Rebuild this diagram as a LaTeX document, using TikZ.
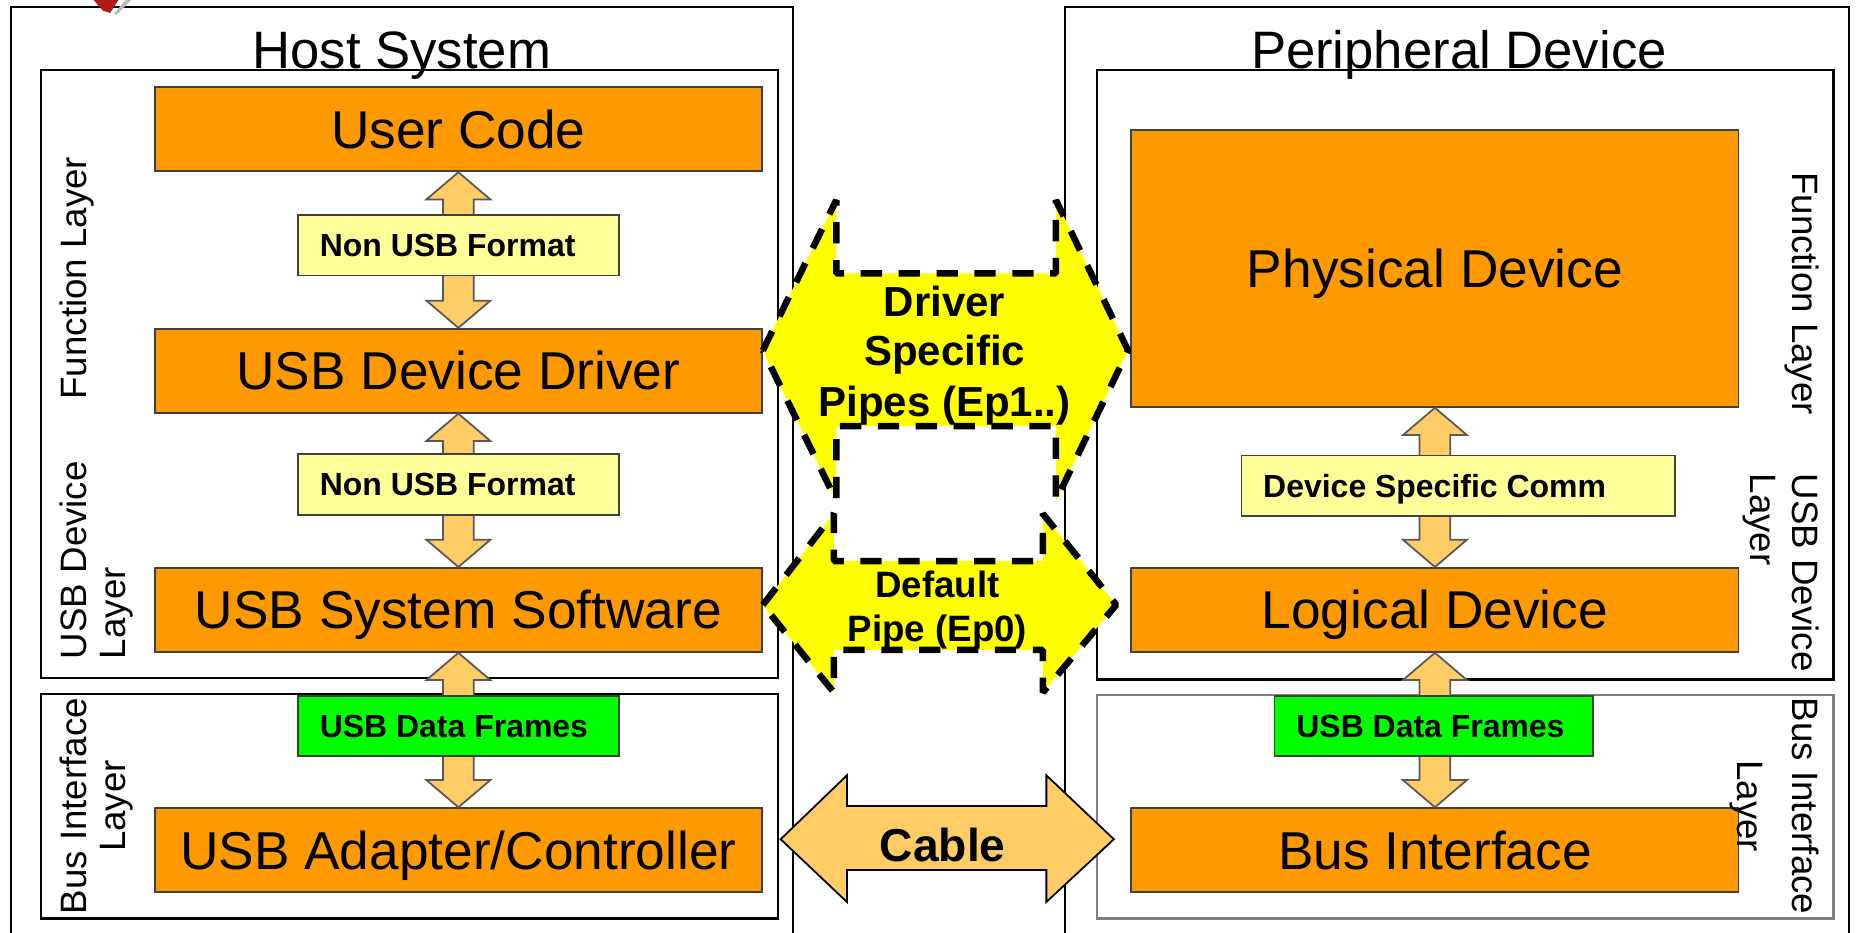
\documentclass[tikz,border=0pt]{standalone}
\usepackage{fontspec}
\setmainfont{Liberation Sans}
\usetikzlibrary{calc}
\definecolor{orng}{HTML}{FF9900}
\definecolor{pale}{HTML}{FFFF99}
\definecolor{grn}{HTML}{00FF00}
\definecolor{arr}{HTML}{FFCC66}
\definecolor{bord}{HTML}{404040}
\definecolor{agray}{HTML}{595959}
\definecolor{pyel}{HTML}{FFFF00}
\definecolor{logored}{HTML}{B01818}
\newcommand\vdarr[2]{%
  \draw[varr] let \p1=(#1), \p2=(#2) in
    (\x1,\y1) -- (\x1+27pt,\y1-23pt) -- (\x1+13pt,\y1-23pt) -- (\x1+13pt,\y2+23pt)
    -- (\x1+27pt,\y2+23pt) -- (\x1,\y2) -- (\x1-27pt,\y2+23pt) -- (\x1-13pt,\y2+23pt)
    -- (\x1-13pt,\y1-23pt) -- (\x1-27pt,\y1-23pt) -- cycle;}
\begin{document}
\begin{tikzpicture}[x=1pt,y=-1pt,
  frame/.style={draw=black, line width=1.8},
  obox/.style={draw=bord, fill=orng, line width=1.5, inner sep=0, minimum width=513, minimum height=71, anchor=north west},
  olabel/.style={font=\fontsize{45}{54}\selectfont, inner sep=0, text height=32.2pt, text depth=0pt},
  pbox/.style={draw=bord, fill=pale, line width=1.5, inner sep=0, minimum height=51, anchor=north west},
  plabel/.style={font=\bfseries\fontsize{27}{32}\selectfont, inner sep=0, text height=19.3pt, text depth=0pt, anchor=west},
  varr/.style={draw=agray, fill=arr, line width=1.5, line join=miter},
  pipe/.style={draw=black, fill=pyel, line width=5.5, dash pattern=on 18pt off 14pt, line join=bevel},
  cab/.style={draw=black, fill=arr, line width=1.5},
  lay/.style={font=\fontsize{31}{35}\selectfont, inner sep=0},
  ttl/.style={font=\fontsize{44.5}{50}\selectfont, inner sep=0, anchor=base},
  ptxt/.style={font=\bfseries\fontsize{35.5}{40}\selectfont, inner sep=0, anchor=base},
  ptxts/.style={font=\bfseries\fontsize{31}{36}\selectfont, inner sep=0, anchor=base},
  ctxt/.style={font=\bfseries\fontsize{39}{44}\selectfont, inner sep=0, anchor=base},
]
\useasboundingbox (0,0) rectangle (1568,788.2);

% outer frames
\draw[frame] (9,788.2) -- (9,6) -- (670,6) -- (670,788.2);
\draw[frame] (900,788.2) -- (900,6) -- (1562,6) -- (1562,788.2);
% logo fragment
\fill[logored] (79,0) -- (100,0) -- (93,11) -- (87,9) -- cycle;
\fill[gray!55] (96,12) -- (99,12) -- (111,0) -- (106,0) -- cycle;
% inner frames
\draw[frame] (35,59) rectangle (657,573);
\draw[frame] (35,586) rectangle (657,776);
\draw[frame] (927,59) rectangle (1549,574);
\draw[frame, draw=gray] (927,587) rectangle (1549,776);

% titles
\node[ttl] (hs) at (339.5,58) {Host System};
\node[ttl] (pdt) at (1232.5,58) {Peripheral Device};

% host orange boxes
\node[obox] (uc) at (130,73) {};
\node[obox] (dd) at (130,277) {};
\node[obox] (ss) at (130,479) {};
\node[obox] (ac) at (130,682) {};
% peripheral orange boxes
\node[obox, minimum height=234] (pd) at (955,109) {};
\node[obox] (ld) at (955,479) {};
\node[obox] (bi) at (955,682) {};

% vertical arrows
\vdarr{uc.south}{dd.north}
\vdarr{dd.south}{ss.north}
\vdarr{ss.south}{ac.north}
\vdarr{pd.south}{ld.north}
\vdarr{ld.south}{bi.north}

% pale / green boxes
\node[pbox, minimum width=271] (nf1) at (251,181) {};
\node[pbox, minimum width=271] (nf2) at (251,383) {};
\node[pbox, minimum width=271, fill=grn] (df1) at (251,587) {};
\node[pbox, minimum width=366] (dsc) at (1048,384) {};
\node[pbox, minimum width=269, fill=grn] (df2) at (1076,587) {};

\node[plabel] (nf1t) at ([xshift=19pt]nf1.west) {Non USB Format};
\node[plabel] (nf2t) at ([xshift=19pt]nf2.west) {Non USB Format};
\node[plabel] (df1t) at ([xshift=19pt]df1.west) {USB Data Frames};
\node[plabel] (dsct) at ([xshift=19pt]dsc.west) {Device Specific Comm};
\node[plabel] (df2t) at ([xshift=19pt]df2.west) {USB Data Frames};

% orange box labels
\node[olabel] (uct) at (uc.center) {User Code};
\node[olabel] (ddt) at (dd.center) {USB Device Driver};
\node[olabel] (sst) at (ss.center) {USB System Software};
\node[olabel] (act) at (ac.center) {USB Adapter/Controller};
\node[olabel] (pdtx) at (pd.center) {Physical Device};
\node[olabel] (ldt) at (ld.center) {Logical Device};
\node[olabel] (bit) at (bi.center) {Bus Interface};

% pipes
\coordinate (yU) at (0,296);
\coordinate (yL) at (0,511);
\coordinate (yC) at (0,709);
\coordinate (pUL) at (dd.east |- yU);
\coordinate (pUR) at ($(pd.west |- yU)+(-2,0)$);
\coordinate (pLL) at (ss.east |- yL);
\coordinate (pLR) at ($(ld.west |- yL)+(-12,0)$);
\coordinate (cL) at ($(ac.east |- yC)+(15,0)$);
\coordinate (cR) at ($(bi.west |- yC)+(-14,0)$);

\draw[pipe] (pUL) -- ($(pUL)+(62,-127)$) -- ($(pUL)+(62,-65)$) -- ($(pUR)+(-61,-65)$)
  -- ($(pUR)+(-61,-127)$) -- (pUR) -- ($(pUR)+(-61,127)$) -- ($(pUR)+(-61,64)$)
  -- ($(pUL)+(62,64)$) -- ($(pUL)+(62,127)$) -- cycle;
\draw[pipe] (pLL) -- ($(pLL)+(60,-77)$) -- ($(pLL)+(60,-37)$) -- ($(pLR)+(-62,-37)$)
  -- ($(pLR)+(-62,-77)$) -- (pLR) -- ($(pLR)+(-62,74)$) -- ($(pLR)+(-62,38)$)
  -- ($(pLL)+(60,38)$) -- ($(pLL)+(60,74)$) -- cycle;
\draw[cab] (cL) -- ($(cL)+(56,-54)$) -- ($(cL)+(56,-28)$) -- ($(cR)+(-57,-28)$)
  -- ($(cR)+(-57,-54)$) -- (cR) -- ($(cR)+(-57,53)$) -- ($(cR)+(-57,26)$)
  -- ($(cL)+(56,26)$) -- ($(cL)+(56,53)$) -- cycle;

\node[ptxt] (pt1) at (798,267) {Driver};
\node[ptxt] (pt2) at (798,309) {Specific};
\node[ptxt] (pt3) at (798,352) {Pipes (Ep1..)};
\node[ptxts] (pt4) at (792,505) {Default};
\node[ptxts] (pt5) at (792,542) {Pipe (Ep0)};
\node[ctxt] (cbt) at (796.5,728) {Cable};

% layer labels, host side
\node[lay, rotate=90, anchor=base] (lf1) at (73,235) {Function Layer};
\node[lay, rotate=90, anchor=base west] (lu1) at (73,557) {USB Device};
\node[lay, rotate=90, anchor=base west] (lu2) at (106,557) {Layer};
\node[lay, rotate=90, anchor=base] (lb1) at (73,681) {Bus Interface};
\node[lay, rotate=90, anchor=base] (lb2) at (106,681) {Layer};
% layer labels, peripheral side
\node[lay, rotate=-90, anchor=base] (rf1) at (1514,248) {Function Layer};
\node[lay, rotate=-90, anchor=base west] (ru1) at (1514,400) {USB Device};
\node[lay, rotate=-90, anchor=base west] (ru2) at (1479,400) {Layer};
\node[lay, rotate=-90, anchor=base] (rb1) at (1514,681) {Bus Interface};
\node[lay, rotate=-90, anchor=base] (rb2) at (1468,681) {Layer};
\end{tikzpicture}
\end{document}
